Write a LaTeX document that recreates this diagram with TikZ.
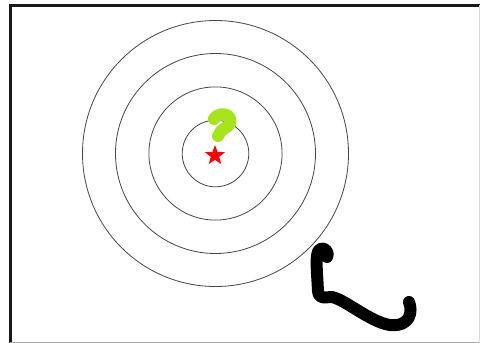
\documentclass[tikz,border=0pt]{standalone}
\usetikzlibrary{shapes.geometric}
\definecolor{qgreen}{RGB}{166,228,28}
\definecolor{ringgray}{RGB}{70,70,70}
\tikzset{
  ring/.style={draw=ringgray, line width=0.8pt},
  brush/.style={line width=#1, line cap=round, line join=round},
}
\begin{document}
\begin{tikzpicture}[x=1pt,y=-1pt]
\useasboundingbox (0,0) rectangle (480,343);
\fill[white] (0,0) rectangle (480,343);
% frame
\draw[black!90, line width=3pt] (10,343) -- (10,5) -- (480,5);
\draw[black!35, line width=1pt] (10,342.5) -- (480,342.5);
\draw[black!15, line width=0.8pt] (479.5,5) -- (479.5,343);
% rings
\coordinate (c) at (215.5,153.5);
\foreach \r in {33.3,66.6,100,133} \draw[ring] (c) circle (\r pt);
% star
\node[star, star points=5, star point ratio=2.4, fill=red, minimum size=21pt, inner sep=0pt] (st) at (215,155.5) {};
% question mark
\draw[qgreen, brush=12pt] (214,119) .. controls (217,113) and (229,112) .. (230.5,120)
  .. controls (232,126) and (224,128) .. (221,131) -- (218,136);
% squiggle
\draw[black, brush=12pt] (327,257) .. controls (330,250) and (322,246) .. (319,250)
  .. controls (315,255) and (317,270) .. (318,291)
  .. controls (319,300) and (325,297) .. (332,297)
  .. controls (346,300) and (370,322) .. (390,325)
  .. controls (410,327) and (413,312) .. (409,302);
\end{tikzpicture}
\end{document}
